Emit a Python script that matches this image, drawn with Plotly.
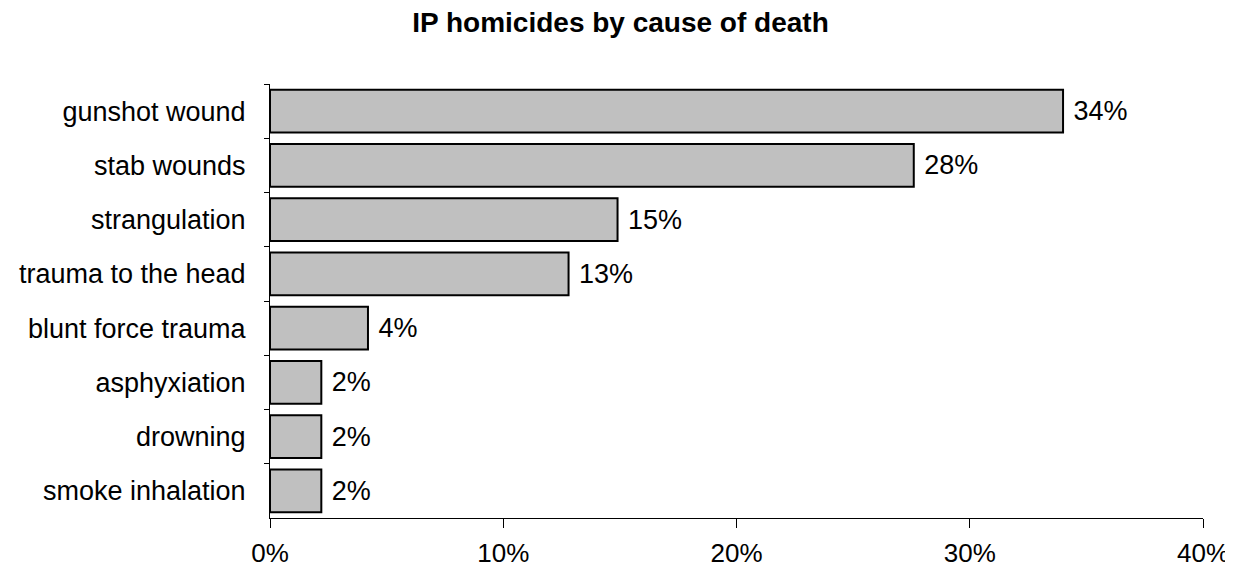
import plotly.graph_objects as go

# causes of death, top to bottom as shown
causes = ["gunshot wound", "stab wounds", "strangulation", "trauma to the head",
          "blunt force trauma", "asphyxiation", "drowning", "smoke inhalation"]
shares = [0.340, 0.276, 0.149, 0.128, 0.042, 0.022, 0.022, 0.022]

x_ticks = [0, 0.1, 0.2, 0.3, 0.4]
x_tick_labels = ["0%", "10%", "20%", "30%", "40%"]

fig = go.Figure()
fig.add_trace(go.Bar(
    y=causes, x=shares, orientation="h",
    marker=dict(color="#c0c0c0", line=dict(color="black", width=2)),
    texttemplate=" %{x:.0%}", textposition="outside",
    textfont=dict(size=27, color="black"),
    constraintext="none", cliponaxis=False,
    width=0.79,
))

# page body adds 8px around the figure, so the figure is a bit smaller
fig.update_layout(
    width=1225, height=562,
    margin=dict(l=262, r=30, t=76, b=52),
    plot_bgcolor="white", paper_bgcolor="white",
    font=dict(family="Liberation Sans, Arial, sans-serif", size=27, color="black"),
    title=dict(text="<b>IP homicides by cause of death</b>", x=0.5, xanchor="center",
               y=0.974, yanchor="middle", font=dict(size=28)),
    showlegend=False,
)
fig.update_xaxes(
    range=[0, 0.4], tickvals=x_ticks, ticktext=x_tick_labels,
    tickfont=dict(size=26),
    automargin=False,
    showgrid=False, zeroline=False,
    showline=True, linecolor="black", linewidth=1,
    ticks="outside", ticklen=9, tickcolor="black",
    ticklabelstandoff=3,
)
fig.update_yaxes(
    autorange="reversed", showgrid=False, automargin=False,
    showline=True, linecolor="black", linewidth=1,
    ticks="outside", ticklen=5, tickcolor="black", tickson="boundaries",
    ticklabelstandoff=18,
)

fig.write_html("out.html")
